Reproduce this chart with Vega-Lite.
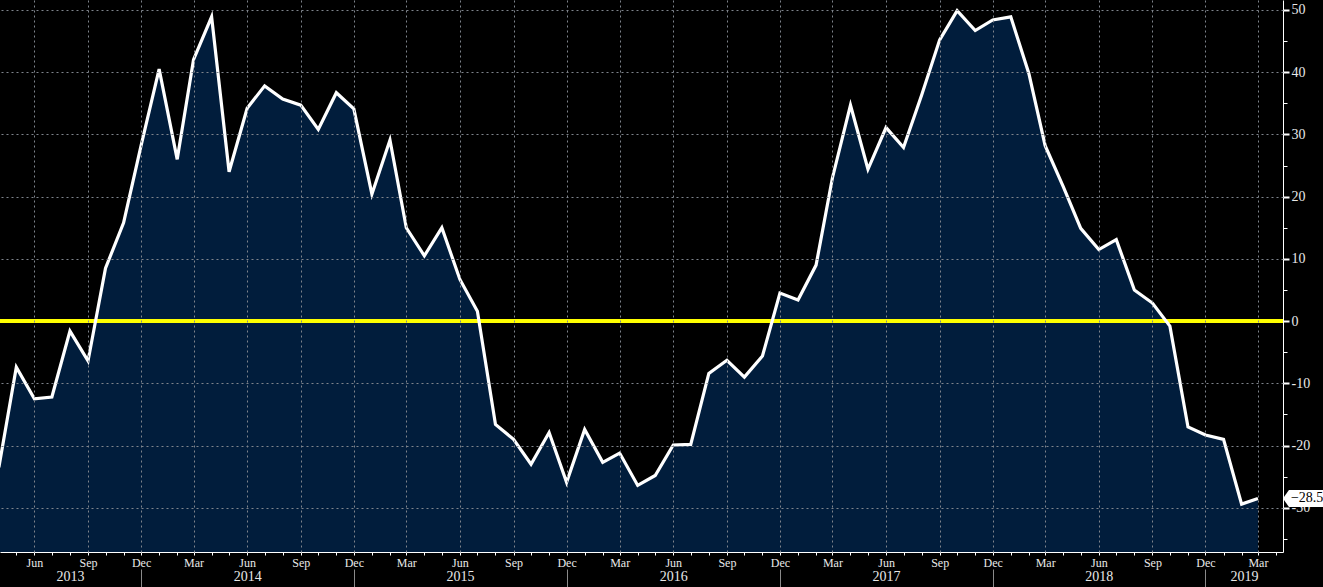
{
  "$schema": "https://vega.github.io/schema/vega-lite/v6.json",
  "width": 1283,
  "height": 552,
  "autosize": "none",
  "padding": {"left": 0, "top": 0, "right": 40, "bottom": 35},
  "background": "#000000",
  "config": {
    "view": {"stroke": null},
    "font": "Liberation Sans Narrow",
    "axis": {"labelColor": "#e8e8e8", "labelFont": "Liberation Sans Narrow", "title": null}
  },
  "data": {
    "values": [
      {"date": "2013/04/01", "value": -23.5},
      {"date": "2013/05/01", "value": -7.4},
      {"date": "2013/06/01", "value": -12.5},
      {"date": "2013/07/01", "value": -12.2},
      {"date": "2013/08/01", "value": -1.6},
      {"date": "2013/09/01", "value": -6.4},
      {"date": "2013/10/01", "value": 8.5},
      {"date": "2013/11/01", "value": 15.8},
      {"date": "2013/12/01", "value": 28.2},
      {"date": "2014/01/01", "value": 40.5},
      {"date": "2014/02/01", "value": 26.0},
      {"date": "2014/03/01", "value": 42.0},
      {"date": "2014/04/01", "value": 48.9},
      {"date": "2014/05/01", "value": 24.0},
      {"date": "2014/06/01", "value": 34.2},
      {"date": "2014/07/01", "value": 37.8},
      {"date": "2014/08/01", "value": 35.7},
      {"date": "2014/09/01", "value": 34.7},
      {"date": "2014/10/01", "value": 30.8},
      {"date": "2014/11/01", "value": 36.7},
      {"date": "2014/12/01", "value": 34.1},
      {"date": "2015/01/01", "value": 20.4},
      {"date": "2015/02/01", "value": 29.1},
      {"date": "2015/03/01", "value": 15.0},
      {"date": "2015/04/01", "value": 10.5},
      {"date": "2015/05/01", "value": 15.0},
      {"date": "2015/06/01", "value": 6.7},
      {"date": "2015/07/01", "value": 1.6},
      {"date": "2015/08/01", "value": -16.6},
      {"date": "2015/09/01", "value": -19.0},
      {"date": "2015/10/01", "value": -23.0},
      {"date": "2015/11/01", "value": -17.9},
      {"date": "2015/12/01", "value": -25.9},
      {"date": "2016/01/01", "value": -17.4},
      {"date": "2016/02/01", "value": -22.7},
      {"date": "2016/03/01", "value": -21.2},
      {"date": "2016/04/01", "value": -26.4},
      {"date": "2016/05/01", "value": -24.8},
      {"date": "2016/06/01", "value": -19.9},
      {"date": "2016/07/01", "value": -19.8},
      {"date": "2016/08/01", "value": -8.4},
      {"date": "2016/09/01", "value": -6.3},
      {"date": "2016/10/01", "value": -9.0},
      {"date": "2016/11/01", "value": -5.6},
      {"date": "2016/12/01", "value": 4.5},
      {"date": "2017/01/01", "value": 3.4},
      {"date": "2017/02/01", "value": 9.0},
      {"date": "2017/03/01", "value": 23.0},
      {"date": "2017/04/01", "value": 34.7},
      {"date": "2017/05/01", "value": 24.4},
      {"date": "2017/06/01", "value": 31.1},
      {"date": "2017/07/01", "value": 27.9},
      {"date": "2017/08/01", "value": 36.3},
      {"date": "2017/09/01", "value": 45.2},
      {"date": "2017/10/01", "value": 49.9},
      {"date": "2017/11/01", "value": 46.7},
      {"date": "2017/12/01", "value": 48.4},
      {"date": "2018/01/01", "value": 48.9},
      {"date": "2018/02/01", "value": 39.8},
      {"date": "2018/03/01", "value": 28.2},
      {"date": "2018/04/01", "value": 21.6},
      {"date": "2018/05/01", "value": 14.9},
      {"date": "2018/06/01", "value": 11.5},
      {"date": "2018/07/01", "value": 13.1},
      {"date": "2018/08/01", "value": 5.0},
      {"date": "2018/09/01", "value": 2.9},
      {"date": "2018/10/01", "value": -0.8},
      {"date": "2018/11/01", "value": -17.0},
      {"date": "2018/12/01", "value": -18.3},
      {"date": "2019/01/01", "value": -19.0},
      {"date": "2019/02/01", "value": -29.4},
      {"date": "2019/03/01", "value": -28.5}
    ]
  },
  "layer": [
    {
      "mark": {"type": "area", "color": "#011d3c", "clip": true},
      "encoding": {
        "x": {
          "field": "date", "type": "temporal",
          "scale": {"domain": [{"year": 2013, "month": 4, "date": 3}, {"year": 2019, "month": 4, "date": 13}]},
          "axis": {
            "orient": "bottom", "zindex": 1, "grid": true, "gridColor": "#7f848c", "gridDash": [2, 3], "gridWidth": 1,
            "domain": false, "ticks": false, "labels": false,
            "values": [
              {"year": 2013, "month": 6, "date": 1}, {"year": 2013, "month": 9, "date": 1}, {"year": 2013, "month": 12, "date": 1},
              {"year": 2014, "month": 3, "date": 1}, {"year": 2014, "month": 6, "date": 1}, {"year": 2014, "month": 9, "date": 1}, {"year": 2014, "month": 12, "date": 1},
              {"year": 2015, "month": 3, "date": 1}, {"year": 2015, "month": 6, "date": 1}, {"year": 2015, "month": 9, "date": 1}, {"year": 2015, "month": 12, "date": 1},
              {"year": 2016, "month": 3, "date": 1}, {"year": 2016, "month": 6, "date": 1}, {"year": 2016, "month": 9, "date": 1}, {"year": 2016, "month": 12, "date": 1},
              {"year": 2017, "month": 3, "date": 1}, {"year": 2017, "month": 6, "date": 1}, {"year": 2017, "month": 9, "date": 1}, {"year": 2017, "month": 12, "date": 1},
              {"year": 2018, "month": 3, "date": 1}, {"year": 2018, "month": 6, "date": 1}, {"year": 2018, "month": 9, "date": 1}, {"year": 2018, "month": 12, "date": 1},
              {"year": 2019, "month": 3, "date": 1}
            ]
          }
        },
        "y": {
          "field": "value", "type": "quantitative",
          "scale": {"domain": [-37.1, 51.6], "nice": false, "zero": false},
          "axis": {
            "orient": "right", "zindex": 1, "grid": true, "gridColor": "#7f848c", "gridDash": [2, 3], "gridWidth": 1,
            "domain": false, "ticks": false, "labels": false,
            "values": [-30, -20, -10, 10, 20, 30, 40, 50]
          }
        },
        "y2": {"datum": -37.1}
      }
    },
    {
      "mark": {"type": "rule", "color": "#ffff00", "strokeWidth": 3},
      "encoding": {
        "y": {"datum": 0, "type": "quantitative", "axis": null}
      }
    },
    {
      "mark": {"type": "line", "color": "#ffffff", "strokeWidth": 3.2, "clip": true},
      "encoding": {
        "x": {
          "field": "date", "type": "temporal",
          "axis": {
            "orient": "bottom", "grid": false, "domain": true, "domainColor": "#ffffff", "domainWidth": 1,
            "ticks": true, "tickColor": "#ffffff", "tickSize": 3, "tickWidth": 1,
            "tickCount": {"interval": "month", "step": 1},
            "labelExpr": "indexof([2,5,8,11], month(datum.value)) >= 0 ? timeFormat(datum.value, '%b') : ''",
            "labelFontSize": 12, "labelPadding": 2, "labelOverlap": false, "labelBound": false, "labelFlush": false
          }
        },
        "y": {
          "field": "value", "type": "quantitative",
          "axis": {
            "orient": "right", "grid": false, "domain": true, "domainColor": "#ffffff", "domainWidth": 1,
            "ticks": true, "tickColor": "#ffffff", "tickSize": 6, "tickWidth": 2,
            "values": [-30, -20, -10, 0, 10, 20, 30, 40, 50],
            "labelExpr": "datum.value + ''",
            "labelFontSize": 14, "labelPadding": 2, "labelOverlap": false, "labelBound": false, "labelFlush": false
          }
        }
      }
    },
    {
      "transform": [{"filter": "time(datum.date) == time(datetime(2019, 2, 1))"}],
      "mark": {"type": "point", "filled": true, "color": "#ffffff", "opacity": 1, "size": 1600,
               "shape": "M 1.25 0 L 1.55 -0.43 L 3.4 -0.43 L 3.4 0.43 L 1.55 0.43 Z"},
      "encoding": {
        "x": {
          "field": "date", "type": "temporal",
          "axis": {
            "orient": "bottom", "grid": false, "domain": false, "ticks": false, "tickSize": 0,
            "values": [
              {"year": 2013, "month": 8, "date": 1}, {"year": 2014, "month": 6, "date": 1}, {"year": 2015, "month": 6, "date": 1},
              {"year": 2016, "month": 6, "date": 1}, {"year": 2017, "month": 6, "date": 1}, {"year": 2018, "month": 6, "date": 1},
              {"year": 2019, "month": 2, "date": 5}
            ],
            "format": "%Y", "labelFontSize": 14, "labelPadding": 17,
            "labelOverlap": false, "labelBound": false, "labelFlush": false
          }
        },
        "y": {
          "field": "value", "type": "quantitative",
          "axis": {
            "orient": "right", "grid": false, "domain": false, "labels": false,
            "ticks": true, "tickColor": "#ffffff", "tickSize": 4, "tickWidth": 1,
            "values": [-35, -25, -15, -5, 5, 15, 25, 35, 45]
          }
        }
      }
    },
    {
      "transform": [{"filter": "time(datum.date) == time(datetime(2019, 2, 1))"}],
      "mark": {"type": "text", "color": "#000000", "align": "left", "baseline": "middle", "dx": 33, "fontSize": 14, "font": "Liberation Sans Narrow"},
      "encoding": {
        "x": {
          "field": "date", "type": "temporal",
          "axis": {
            "orient": "bottom", "grid": false, "domain": false, "labels": false, "offset": 17,
            "ticks": true, "tickColor": "#8a8a8a", "tickSize": 19, "tickWidth": 1,
            "values": [
              {"year": 2013, "month": 12, "date": 1}, {"year": 2014, "month": 12, "date": 1}, {"year": 2015, "month": 12, "date": 1},
              {"year": 2016, "month": 12, "date": 1}, {"year": 2017, "month": 12, "date": 1}, {"year": 2018, "month": 12, "date": 1}
            ]
          }
        },
        "y": {"field": "value", "type": "quantitative", "axis": null},
        "text": {"field": "value", "type": "quantitative", "format": ".1f"}
      }
    }
  ],
  "resolve": {"axis": {"x": "independent", "y": "independent"}}
}
